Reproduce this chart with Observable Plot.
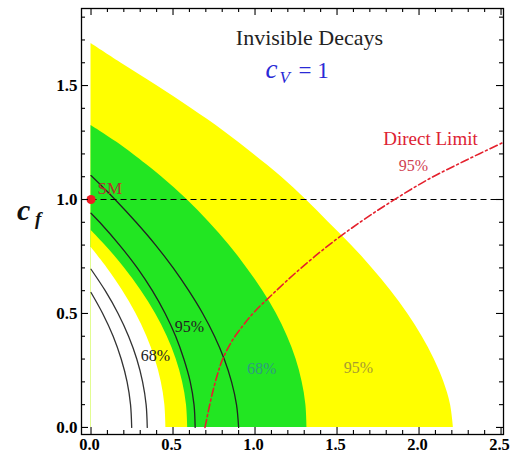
<!DOCTYPE html>
<html><head><meta charset="utf-8">
<script src="https://cdn.jsdelivr.net/npm/d3@7"></script>
<script src="https://cdn.jsdelivr.net/npm/@observablehq/plot@0.6"></script>
<style>body{margin:0;background:#fff}#chart{position:absolute;left:0;top:0}</style>
</head><body><div id="chart"></div>
<script>
// boundaries: [x, y]
const outer95 = [[2.21,0],[2.192,0.1],[2.151,0.2],[2.092,0.3],[2.018,0.4],[1.93,0.5],[1.828,0.6],[1.713,0.7],[1.586,0.8],[1.448,0.9],[1.31,1.0],[1.16,1.1],[0.99,1.2],[0.81,1.3],[0.61,1.4],[0.40,1.5],[0.18,1.6],[0,1.684]];
const outer68 = [[1.317,0],[1.31,0.1],[1.287,0.2],[1.25,0.3],[1.197,0.4],[1.13,0.5],[1.047,0.6],[0.95,0.7],[0.842,0.8],[0.72,0.9],[0.585,1.0],[0.43,1.1],[0.255,1.2],[0.16,1.25],[0.055,1.3],[0,1.325]];
const inner68 = [[0.59,0],[0.582,0.1],[0.558,0.2],[0.519,0.3],[0.464,0.4],[0.393,0.5],[0.306,0.6],[0.204,0.7],[0.085,0.8],[0,0.865]];
const inner95 = [[0.457,0],[0.45,0.1],[0.428,0.2],[0.391,0.3],[0.34,0.4],[0.274,0.5],[0.193,0.6],[0.098,0.7],[0,0.79]];
const line1 = [[0.248,0],[0.241,0.1],[0.22,0.2],[0.184,0.3],[0.135,0.4],[0.071,0.5],[0,0.592]];
const line2 = [[0.343,0],[0.336,0.1],[0.3145,0.2],[0.279,0.3],[0.229,0.4],[0.165,0.5],[0.0866,0.6],[0,0.694]];
const line3 = [[0.635,0],[0.628,0.1],[0.605,0.2],[0.566,0.3],[0.516,0.4],[0.452,0.5],[0.374,0.6],[0.282,0.7],[0.174,0.8],[0.053,0.9],[0,0.94]];
const line4 = [[0.90,0],[0.887,0.1],[0.857,0.2],[0.812,0.3],[0.753,0.4],[0.681,0.5],[0.596,0.6],[0.501,0.7],[0.394,0.8],[0.275,0.9],[0.1465,1.0],[0.078,1.05],[0,1.105]];
const directLimit = [[0.695,0],[0.715,0.07],[0.74,0.15],[0.77,0.23],[0.80,0.295],[0.86,0.38],[0.93,0.45],[1.0,0.51],[1.1,0.58],[1.25,0.68],[1.45,0.80],[1.65,0.905],[1.84,0.995],[2.06,1.09],[2.28,1.17],[2.506,1.248]];
const smPoint = [[0,1]];
const xMajor = [0,0.5,1,1.5,2,2.5];
const xMinor = [0.1,0.2,0.3,0.4,0.6,0.7,0.8,0.9,1.1,1.2,1.3,1.4,1.6,1.7,1.8,1.9,2.1,2.2,2.3,2.4];
const yMajor = [0,0.5,1,1.5];
const yMinor = [0.1,0.2,0.3,0.4,0.6,0.7,0.8,0.9,1.1,1.2,1.3,1.4,1.6,1.7,1.8];

const serif = "Liberation Serif, Times New Roman, serif";
const W = 510, H = 454, mL = 81, mR = 7, mT = 8, mB = 20;
const xDom = [-0.058, 2.515], yDom = [-0.031, 1.838];
const pxX = (W - mL - mR) / (xDom[1] - xDom[0]);   // pixels per x unit
const pxY = (H - mT - mB) / (yDom[1] - yDom[0]);   // pixels per y unit

const X = d => d[0], Y = d => d[1];
const band = (data, fill) => Plot.areaX(data, {y: Y, x1: 0, x2: X, fill, curve: "catmull-rom"});
const curveLine = (data, opts) => Plot.line(data, {x: X, y: Y, curve: "catmull-rom", ...opts});
const label = (text, x, y, opts) => Plot.text([text], {x, y, text: d => d, fontFamily: serif, lineAnchor: "bottom", ...opts});

// inward frame ticks on all four sides
const tickStyle = {stroke: "#000", strokeWidth: 1.1};
const ticks = [];
for (const [vals, len] of [[xMajor, 7], [xMinor, 4]]) {
  ticks.push(Plot.ruleX(vals, {x: d => d, y1: yDom[0], y2: yDom[0] + len / pxY, ...tickStyle}));
  ticks.push(Plot.ruleX(vals, {x: d => d, y1: yDom[1], y2: yDom[1] - len / pxY, ...tickStyle}));
}
for (const [vals, len] of [[yMajor, 7], [yMinor, 4]]) {
  ticks.push(Plot.ruleY(vals, {y: d => d, x1: xDom[0], x2: xDom[0] + len / pxX, ...tickStyle}));
  ticks.push(Plot.ruleY(vals, {y: d => d, x1: xDom[1], x2: xDom[1] - len / pxX, ...tickStyle}));
}

const chart = Plot.plot({
  width: W, height: H,
  marginLeft: mL, marginRight: mR, marginTop: mT, marginBottom: mB,
  x: {domain: xDom},
  y: {domain: yDom},
  style: {fontFamily: serif, background: "white"},
  marks: [
    band(outer95, "#ffff00"),
    band(outer68, "#22e622"),
    band(inner68, "#ffff00"),
    band(inner95, "#ffffff"),
    curveLine(line1, {stroke: "#333", strokeWidth: 1.3}),
    curveLine(line2, {stroke: "#333", strokeWidth: 1.3}),
    curveLine(line3, {stroke: "#222", strokeWidth: 1.3}),
    curveLine(line4, {stroke: "#222", strokeWidth: 1.3}),
    Plot.ruleY([1], {x1: 0, x2: xDom[1], stroke: "black", strokeWidth: 1.2, strokeDasharray: "6,4"}),
    curveLine(directLimit, {stroke: "#e4202c", strokeWidth: 1.6, strokeDasharray: "8,3,2,3"}),
    Plot.dot(smPoint, {x: X, y: Y, r: 4.5, fill: "#ee1c24"}),
    Plot.axisX(xMajor, {anchor: "bottom", tickSize: 0, tickPadding: 4, dx: -1.5, tickFormat: d3.format(".1f"), fontSize: 16.5, fontWeight: "bold", label: null}),
    Plot.axisY(yMajor, {anchor: "left", tickSize: 0, tickPadding: 4, tickFormat: d3.format(".1f"), fontSize: 17, fontWeight: "bold", label: null}),
    ...ticks,
    Plot.frame({stroke: "black", strokeWidth: 1.3}),
    label("Invisible Decays", 1.332, 1.680, {fontSize: 22, fill: "#222", textAnchor: "middle"}),
    label("c", 1.064, 1.531, {fontSize: 27, fontStyle: "italic", fill: "#2a2ad6", textAnchor: "start"}),
    label("V", 1.064, 1.531, {fontSize: 17, fontStyle: "italic", fill: "#2a2ad6", textAnchor: "start", dx: 14, dy: 5}),
    label("= 1", 1.064, 1.531, {fontSize: 23, fill: "#2a2ad6", textAnchor: "start", dx: 33}),
    label("c", 0, 0.908, {fontSize: 30, fontStyle: "italic", fontWeight: "bold", fill: "#111", textAnchor: "start", dx: -74, dy: 0}),
    label("f", 0, 0.908, {fontSize: 19, fontStyle: "italic", fontWeight: "bold", fill: "#111", textAnchor: "start", dx: -56, dy: 5}),
    label("SM", 0, 1.026, {fontSize: 17, fill: "#b5332e", textAnchor: "start", dx: 6.5}),
    label("68%", 0.393, 0.292, {fontSize: 16, fill: "#222", textAnchor: "middle"}),
    label("95%", 0.60, 0.419, {fontSize: 16, fill: "#222", textAnchor: "middle"}),
    label("68%", 1.04, 0.235, {fontSize: 16, fill: "#2f9a80", textAnchor: "middle"}),
    label("95%", 1.631, 0.239, {fontSize: 16, fill: "#a89b30", textAnchor: "middle"}),
    label("Direct Limit", 2.07, 1.241, {fontSize: 19, fill: "#dd2233", textAnchor: "middle"}),
    label("95%", 1.966, 1.123, {fontSize: 16, fill: "#d04050", textAnchor: "middle"})
  ]
});
document.getElementById("chart").appendChild(chart);
</script>
</body></html>
